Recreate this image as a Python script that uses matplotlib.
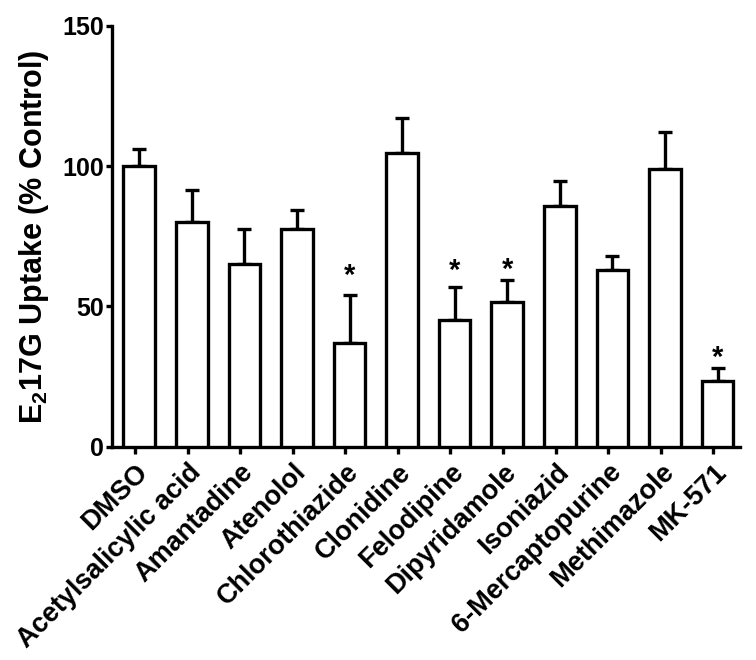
import matplotlib.pyplot as plt
import numpy as np

plt.rcParams['font.family'] = 'Liberation Sans'
plt.rcParams['font.weight'] = 'bold'
plt.rcParams['mathtext.fontset'] = 'custom'
plt.rcParams['mathtext.bf'] = 'Liberation Sans:bold'

## data
drugs = ['DMSO', 'Acetylsalicylic acid', 'Amantadine', 'Atenolol', 'Chlorothiazide',
         'Clonidine', 'Felodipine', 'Dipyridamole', 'Isoniazid', '6-Mercaptopurine',
         'Methimazole', 'MK-571']
uptake = [100.0, 80.1, 65.0, 77.5, 36.9, 104.8, 45.2, 51.6, 85.7, 63.0, 99.1, 23.5]
err = [6.0, 11.5, 12.5, 6.8, 17.3, 12.2, 11.9, 7.8, 9.1, 4.9, 13.2, 4.5]
star_idx = [4, 6, 7, 11]
star_y = [62.9, 64.9, 65.1, 33.7]

x = np.arange(len(drugs))
xb = x + 0.08   # graphpad draws bars a bit right of the ticks

fig = plt.figure(figsize=(7.56, 6.6), dpi=100)
ax = fig.add_axes([0.148, 0.323, 0.831, 0.638])

ax.bar(xb, uptake, width=0.6, color='white', edgecolor='black', linewidth=2.4, zorder=3)
ax.errorbar(xb, uptake, yerr=[np.zeros(len(err)), err], fmt='none', ecolor='black',
            elinewidth=2.4, capsize=4.8, capthick=2.4, zorder=2)

for i, sy in zip(star_idx, star_y):
    ax.annotate('*', (xb[i], sy), xytext=(0, -10), textcoords='offset points',
                ha='center', va='baseline', fontsize=21, fontweight='bold')

ax.set_xlim(-0.44, 11.51)
ax.set_ylim(0, 150)
ax.set_yticks([0, 50, 100, 150])
ax.set_xticks(x)
ax.set_xticklabels(drugs, rotation=45, ha='right', rotation_mode='anchor')

for s in ['top', 'right']:
    ax.spines[s].set_visible(False)
for s in ['left', 'bottom']:
    ax.spines[s].set_linewidth(2.4)

ax.tick_params(axis='y', labelsize=18, width=2.4, length=4.5, pad=1)
ax.tick_params(axis='x', labelsize=19.5, width=2.4, length=5, pad=4)

ax.set_ylabel(r'E$_\mathbf{2}$17G Uptake (% Control)', fontsize=22, fontweight='bold', labelpad=8)

fig.savefig('out.png', dpi=100)
